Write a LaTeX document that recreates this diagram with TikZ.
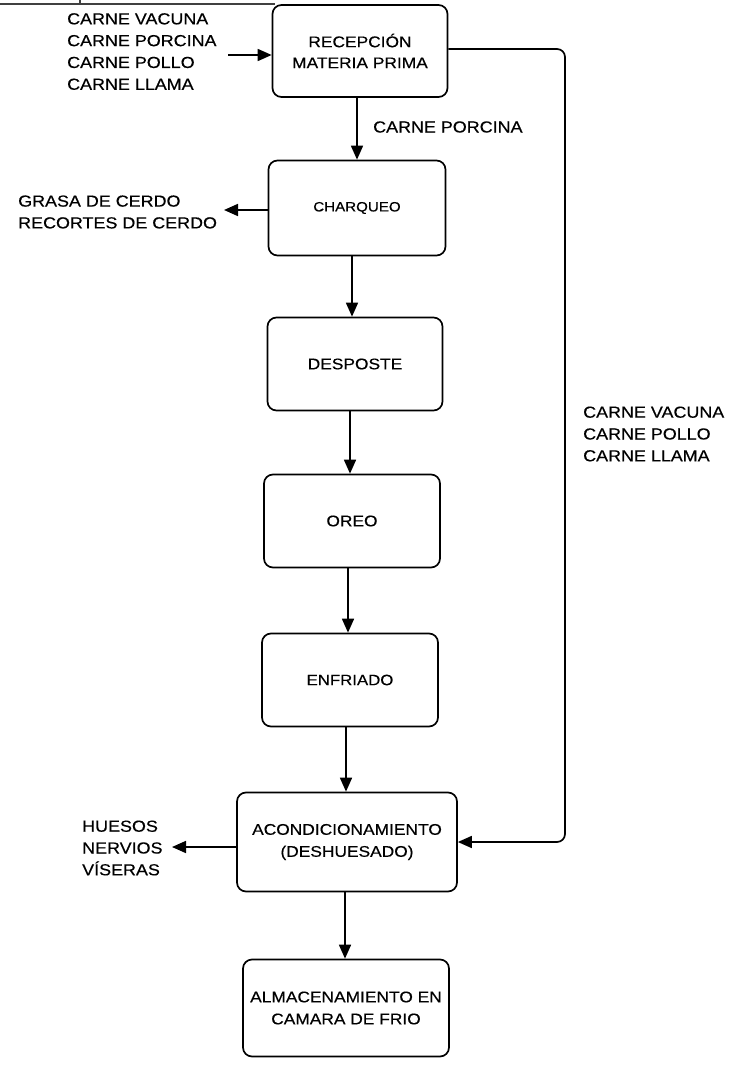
\documentclass[tikz,border=0pt]{standalone}
\usepackage{fontspec}
\setmainfont{Liberation Sans}[FakeStretch=1.12, FakeBold=0.4]
\usetikzlibrary{arrows.meta}
\tikzset{
  box/.style={draw, line width=1.7pt, rounded corners=9pt, align=center, inner sep=0pt},
  lbl/.style={align=left, inner sep=0pt, font=\fontsize{16}{21.8}\selectfont},
  arr/.style={line width=1.7pt, -{Triangle[length=14pt,width=12pt]}},
  edge/.style={line width=1.4pt, draw=black!75},
}
\begin{document}
\begin{tikzpicture}[x=1pt,y=-1pt]
\useasboundingbox (0,0) rectangle (736,1067);
% page artifact at top
\draw[edge] (0,4) -- (275,4);
\draw[edge] (80,0) -- (80,5);
% boxes
\node[box, minimum width=175pt, minimum height=92pt, font=\fontsize{15.5}{21}\selectfont] (rec) at (360,51) {RECEPCIÓN\\MATERIA PRIMA};
\node[box, minimum width=177pt, minimum height=95pt, font=\fontsize{13.5}{18}\selectfont] (charq) at (357,208) {CHARQUEO};
\node[box, minimum width=175pt, minimum height=93pt, font=\fontsize{15.5}{20}\selectfont] (desp) at (355,364) {DESPOSTE};
\node[box, minimum width=176pt, minimum height=93pt, font=\fontsize{15.5}{20}\selectfont] (oreo) at (352,521) {OREO};
\node[box, minimum width=176pt, minimum height=93pt, font=\fontsize{15}{20}\selectfont] (enfr) at (350,680) {ENFRIADO};
\node[box, minimum width=220pt, minimum height=99pt, font=\fontsize{15.5}{22}\selectfont] (acond) at (347,842) {ACONDICIONAMIENTO\\(DESHUESADO)};
\node[box, minimum width=206pt, minimum height=97pt, font=\fontsize{15.5}{22}\selectfont] (alm) at (346,1008) {ALMACENAMIENTO EN\\CAMARA DE FRIO};
% labels
\node[lbl, anchor=north west] (inlbl) at (67,13) {CARNE VACUNA\\CARNE PORCINA\\CARNE POLLO\\CARNE LLAMA};
\node[lbl, anchor=west] (porc) at (373,127) {CARNE PORCINA};
\node[lbl, anchor=west] (grasa) at (18,212) {GRASA DE CERDO\\RECORTES DE CERDO};
\node[lbl, anchor=west] (otras) at (583,434) {CARNE VACUNA\\CARNE POLLO\\CARNE LLAMA};
\node[lbl, anchor=west] (huesos) at (82,848) {HUESOS\\NERVIOS\\VÍSERAS};
% helper coordinates
\coordinate (inS) at (228,55);
\coordinate (grasaE) at (224,210);
\coordinate (huesosE) at (172,847);
\coordinate (bypass) at (565,0);
% connectors
\draw[arr] (inS) -- (inS -| rec.west);
\draw[arr] (rec.south -| 357,0) -- (charq.north -| 357,0);
\draw[arr] (charq.south -| 352,0) -- (desp.north -| 352,0);
\draw[arr] (desp.south -| 350,0) -- (oreo.north -| 350,0);
\draw[arr] (oreo.south -| 348,0) -- (enfr.north -| 348,0);
\draw[arr] (enfr.south -| 346,0) -- (acond.north -| 346,0);
\draw[arr] (acond.south -| 345,0) -- (alm.north -| 345,0);
\draw[arr] (grasaE -| charq.west) -- (grasaE);
\draw[arr] (huesosE -| acond.west) -- (huesosE);
\draw[arr, rounded corners=8pt] (rec.east |- 0,49) -- (bypass |- 0,49) -- (bypass |- acond.east) -- (acond.east);
\end{tikzpicture}
\end{document}
